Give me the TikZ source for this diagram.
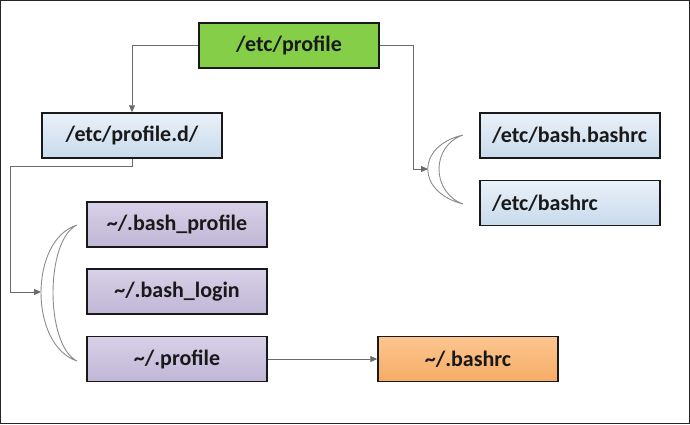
\documentclass[tikz,border=0pt]{standalone}
\usepackage{fontspec}
\setmainfont{Carlito}
\usepackage{tikz}
\usetikzlibrary{arrows.meta}

\definecolor{profgreen}{HTML}{84CE48}
\definecolor{etctop}{HTML}{EAF1F9}
\definecolor{etcbot}{HTML}{C8DAEC}
\definecolor{homtop}{HTML}{D8D1E8}
\definecolor{hombot}{HTML}{C0B6D6}
\definecolor{rctop}{HTML}{FCC690}
\definecolor{rcbot}{HTML}{F6AC66}
\definecolor{linkgray}{HTML}{6A6A6A}

\begin{document}
\begin{tikzpicture}[x=1pt,y=-1pt]
\useasboundingbox (0,0) rectangle (690,424);
\draw[line width=1.3pt,black!85] (0.7,0.7) rectangle (689.3,423.3);

\tikzstyle{every node}=[font=\fontsize{22}{25}\selectfont\bfseries,text=black!90]
\tikzstyle{file}=[draw=black!90,line width=1.5pt,minimum width=180pt,minimum height=45pt,inner sep=0pt]
\tikzstyle{sysfile}=[file,top color=etctop,bottom color=etcbot]
\tikzstyle{homefile}=[file,top color=homtop,bottom color=hombot]
\tikzstyle{leftfile}=[sysfile,text width=156pt,inner xsep=12pt,align=left]
\tikzstyle{conn}=[draw=linkgray,line width=0.9pt,-{Triangle[length=7pt,width=6pt]}]
\tikzstyle{moon}=[draw=black!45,line width=0.9pt,fill=white]

% files
\node (prof) [file,fill=profgreen] at (289,45.5) {/etc/profile};
\node (profd) [sysfile] at (132,135.5) {/etc/profile.d/};
\node (bashbashrc) [leftfile] at (570,135.5) {/etc/bash.bashrc};
\node (etcbashrc) [leftfile] at (570,203) {/etc/bashrc};
\node (bprof) [homefile] at (177,224.5) {\textasciitilde/.bash\_profile};
\node (blogin) [homefile] at (177,291.5) {\textasciitilde/.bash\_login};
\node (uprof) [homefile] at (177,359) {\textasciitilde/.profile};
\node (bashrc) [file,top color=rctop,bottom color=rcbot] at (468,359) {\textasciitilde/.bashrc};

% crescents
\draw[moon] (463,135) .. controls (416,146) and (416,192) .. (463,204)
            .. controls (431,192) and (431,146) .. (463,135) -- cycle;
\draw[moon] (77,225) .. controls (29,240) and (29,345) .. (77,361)
            .. controls (45,345) and (45,240) .. (77,225) -- cycle;
\coordinate (rmoon) at (428,169);
\coordinate (lmoon) at (41,292);
\coordinate (rbend) at (413,169);
\coordinate (lbend) at (10,166);

% links
\draw[conn] (prof.west) -| (profd.north);
\draw[conn] (prof.east) -| (rbend) -- (rmoon);
\draw[conn] (profd.south) |- (lbend) |- (lmoon);
\draw[conn] (uprof.east) -- (bashrc.west);
\end{tikzpicture}
\end{document}
